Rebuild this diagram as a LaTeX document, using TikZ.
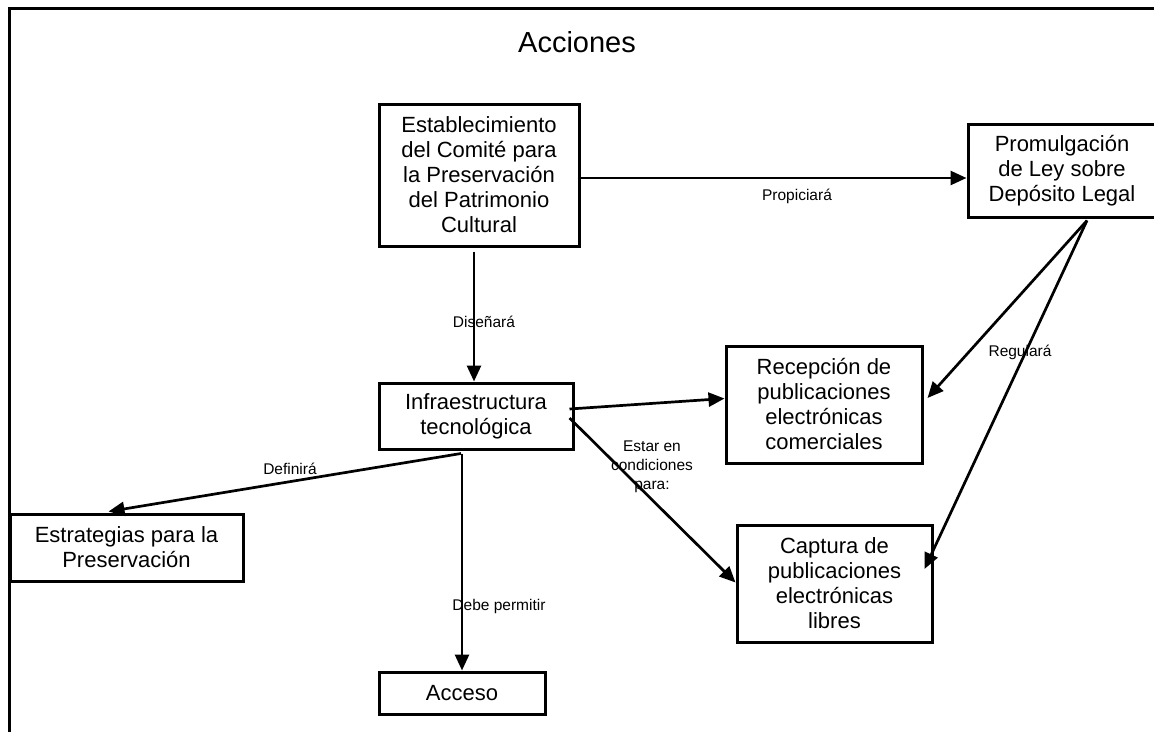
\documentclass[tikz,border=0pt]{standalone}
\usepackage{fontspec}
\setmainfont{Liberation Sans}
\usepackage{tikz}
\usetikzlibrary{arrows,arrows.meta,shapes,positioning,calc}
\tikzset{
  every picture/.style = {
    line width = 2.7pt,
    >={Triangle[length=16pt,width=14pt]},
  }
  ,
  caja/.style = {
    rectangle,
    draw,
    line width = 3pt,
    align = center,
    inner sep = 0pt,
    font = \fontsize{22}{25}\selectfont
  }
  , % labels of edges
  label-edge/.style = {
    align = center,
    inner sep = 0pt,
    font = \fontsize{15.5}{19}\selectfont
  }
}

\begin{document}
\begin{tikzpicture}[x=1pt, y=-1pt]
		\useasboundingbox (0,0) rectangle (1154,731);
		\draw[line width=3pt] (1160,8) -- (9.5,8) -- (9.5,740);
		\node[font=\fontsize{29}{32}\selectfont] at (577,42) (titulo) {Acciones};
		\node[caja, minimum width=200, minimum height=142] at (479,175) (comite)
			{Establecimiento\\del Comité para\\la Preservación\\del Patrimonio\\Cultural};
		\node[caja, minimum width=188, minimum height=93] at (1062,170.5) (promul)
			{Promulgación\\de Ley sobre\\Depósito Legal};
		\node[caja, minimum width=194, minimum height=66] at (476,416) (infra)
			{Infraestructura\\tecnológica};
		\node[caja, minimum width=233, minimum height=67] at (126.5,547.5) (estrat)
			{Estrategias para la\\Preservación};
		\node[caja, minimum width=166, minimum height=42] at (462,693) (acceso) {Acceso};
		\node[caja, minimum width=196, minimum height=117] at (824,404.5) (recep)
			{Recepción de\\publicaciones\\electrónicas\\comerciales};
		\node[caja, minimum width=195, minimum height=117] at (834.5,583.5) (captura)
			{Captura de\\publicaciones\\electrónicas\\libres};
		\draw[->] ($(comite.east)+(0,3)$) -- ($(promul.west)+(0,7.5)$);
		\draw[->] ($(comite.south)+(-5,4)$) -- ($(infra.north)+(-2,0)$);
		\draw[->] ($(infra.east)+(-5,-7)$) -- ($(recep.west)+(0,-6)$);
		\draw[->] ($(infra.east)+(-5,2)$) -- ($(captura.west)+(0,-1)$);
		\draw[->] ($(infra.south)+(-15,3)$) -- ($(estrat.north)+(-18,-1)$);
		\draw[->] ($(infra.south)+(-14,3)$) -- (acceso.north);
		\draw[->] ($(promul.south)+(25,2)$) -- ($(recep.east)+(4,-6.5)$);
		\draw[->] ($(promul.south)+(25,2)$) -- ($(captura.east)+(-9,-14.5)$);
		\node[label-edge] at (797,196) (l-propicia) {Propiciará};
		\node[label-edge] at (484,322) (l-disena) {Diseñará};
		\node[label-edge] at (290,469) (l-define) {Definirá};
		\node[label-edge] at (499,606) (l-permite) {Debe permitir};
		\node[label-edge] at (1020,352) (l-regula) {Regulará};
		\node[label-edge] at (652,467) (l-condic) {Estar en\\condiciones\\para:};
\end{tikzpicture}
\end{document}
